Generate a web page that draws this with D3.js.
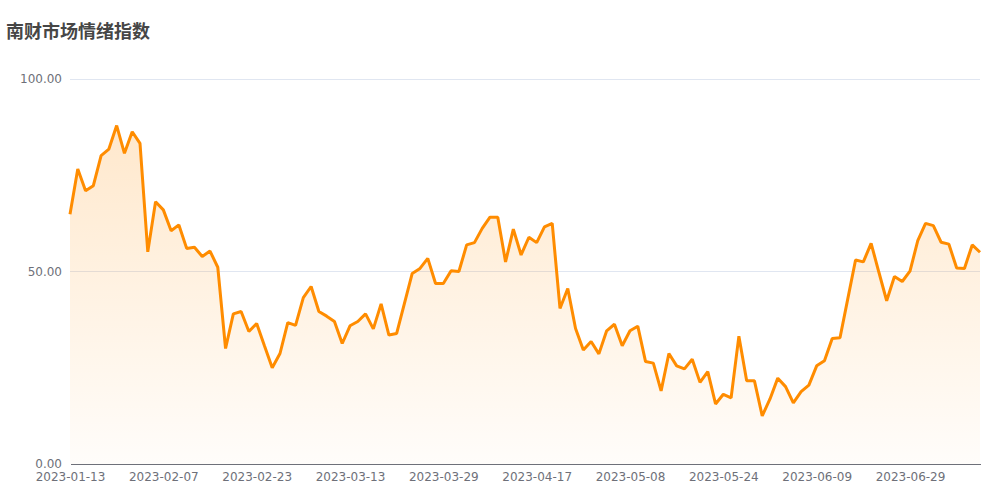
<!DOCTYPE html>
<html><head><meta charset="utf-8">
<script src="https://cdn.jsdelivr.net/npm/d3@7/dist/d3.min.js"></script>
<style>body{margin:0;background:#fff;}svg{display:block;}</style>
</head><body>
<svg id="chart" width="1000" height="500"></svg>
<script>
const title = "南财市场情绪指数";
const dates = [
"2023-01-13","2023-01-16","2023-01-17","2023-01-18","2023-01-19","2023-01-20","2023-01-30","2023-01-31","2023-02-01","2023-02-02",
"2023-02-03","2023-02-06","2023-02-07","2023-02-08","2023-02-09","2023-02-10","2023-02-13","2023-02-14","2023-02-15","2023-02-16",
"2023-02-17","2023-02-20","2023-02-21","2023-02-22","2023-02-23","2023-02-24","2023-02-27","2023-02-28","2023-03-01","2023-03-02",
"2023-03-03","2023-03-06","2023-03-07","2023-03-08","2023-03-09","2023-03-10","2023-03-13","2023-03-14","2023-03-15","2023-03-16",
"2023-03-17","2023-03-20","2023-03-21","2023-03-22","2023-03-23","2023-03-24","2023-03-27","2023-03-28","2023-03-29","2023-03-30",
"2023-03-31","2023-04-03","2023-04-04","2023-04-06","2023-04-07","2023-04-10","2023-04-11","2023-04-12","2023-04-13","2023-04-14",
"2023-04-17","2023-04-18","2023-04-19","2023-04-20","2023-04-21","2023-04-24","2023-04-25","2023-04-26","2023-04-27","2023-04-28",
"2023-05-04","2023-05-05","2023-05-08","2023-05-09","2023-05-10","2023-05-11","2023-05-12","2023-05-15","2023-05-16","2023-05-17",
"2023-05-18","2023-05-19","2023-05-22","2023-05-23","2023-05-24","2023-05-25","2023-05-26","2023-05-29","2023-05-30","2023-05-31",
"2023-06-01","2023-06-02","2023-06-05","2023-06-06","2023-06-07","2023-06-08","2023-06-09","2023-06-12","2023-06-13","2023-06-14",
"2023-06-15","2023-06-16","2023-06-19","2023-06-20","2023-06-21","2023-06-26","2023-06-27","2023-06-28","2023-06-29","2023-06-30",
"2023-07-03","2023-07-04","2023-07-05","2023-07-06","2023-07-07","2023-07-10","2023-07-11","2023-07-12"
];
const values = [
64.9,76.6,71.0,72.3,80.1,81.8,87.9,80.7,86.3,83.3,
55.1,68.1,66.0,60.6,62.1,56.0,56.3,53.9,55.3,51.1,
30.0,39.0,39.6,34.4,36.5,30.7,25.0,28.7,36.7,36.0,
43.2,46.1,39.6,38.4,37.0,31.3,35.9,37.0,39.0,35.1,
41.6,33.5,33.9,41.7,49.5,50.8,53.4,46.9,46.9,50.2,
50.0,56.9,57.5,61.2,64.1,64.1,52.5,61.0,54.3,58.9,
57.5,61.6,62.5,40.4,45.6,35.2,29.6,31.8,28.6,34.6,
36.3,30.7,34.6,35.8,26.6,26.2,19.0,28.7,25.5,24.7,
27.2,21.2,24.0,15.6,18.1,17.2,33.2,21.6,21.6,12.5,
16.9,22.3,20.1,15.9,18.8,20.5,25.5,26.8,32.6,32.8,
42.9,53.0,52.5,57.3,49.8,42.4,48.7,47.4,50.1,58.0,
62.5,61.9,57.6,57.1,50.9,50.8,56.9,55.0
];
const yTicks = [0, 50, 100];
const xTickEvery = 12;

const svg = d3.select("#chart");
const margin = {left: 70, right: 20, top: 79, bottom: 36};
const W = 1000, H = 500;
const x = d3.scalePoint().domain(dates).range([margin.left, W - margin.right]);
const y = d3.scaleLinear().domain([0, 100]).range([H - margin.bottom, margin.top]);

const defs = svg.append("defs");
const grad = defs.append("linearGradient").attr("id", "areaGrad")
  .attr("x1", 0).attr("y1", 0).attr("x2", 0).attr("y2", 1);
grad.append("stop").attr("offset", "0%").attr("stop-color", "#FF8C00").attr("stop-opacity", 0.2);
grad.append("stop").attr("offset", "100%").attr("stop-color", "#FF8C00").attr("stop-opacity", 0.02);

// grid
svg.append("g").selectAll("line").data(yTicks.filter(d => d > 0)).join("line")
  .attr("x1", margin.left).attr("x2", W - margin.right)
  .attr("y1", d => y(d)).attr("y2", d => y(d))
  .attr("stroke", "#E0E6F1").attr("stroke-width", 1).attr("shape-rendering", "crispEdges");

const data = dates.map((d, i) => ({d, v: values[i]}));

svg.append("path").datum(data)
  .attr("fill", "url(#areaGrad)")
  .attr("d", d3.area().x(p => x(p.d)).y0(y(0)).y1(p => y(p.v)));

// y labels
const yAxis = d3.axisLeft(y).tickValues(yTicks).tickFormat(d3.format(".2f")).tickSize(0).tickPadding(8);
const gy = svg.append("g").attr("transform", `translate(${margin.left},0)`).call(yAxis);
gy.select(".domain").remove();
gy.selectAll("text").attr("fill", "#6E7079").style("font-family", "DejaVu Sans, sans-serif").style("font-size", "12px");

// x axis
const xAxis = d3.axisBottom(x).tickValues(dates.filter((d, i) => i % xTickEvery === 0)).tickSize(0).tickPadding(8);
const gx = svg.append("g").attr("transform", `translate(0,${y(0)})`).call(xAxis);
gx.select(".domain").attr("stroke", "#6E7079").attr("shape-rendering", "crispEdges");
gx.selectAll("text").attr("fill", "#6E7079").style("font-family", "DejaVu Sans, sans-serif").style("font-size", "12px");

svg.append("path").datum(data)
  .attr("fill", "none").attr("stroke", "#FF8C00").attr("stroke-width", 3)
  .attr("stroke-linejoin", "bevel")
  .attr("d", d3.line().x(p => x(p.d)).y(p => y(p.v)));

svg.append("text").attr("x", 6).attr("y", 38).text(title)
  .attr("fill", "#464646").style("font-family", "'Noto Sans CJK SC', sans-serif")
  .style("font-size", "18px").style("font-weight", "bold");
</script>
</body></html>
